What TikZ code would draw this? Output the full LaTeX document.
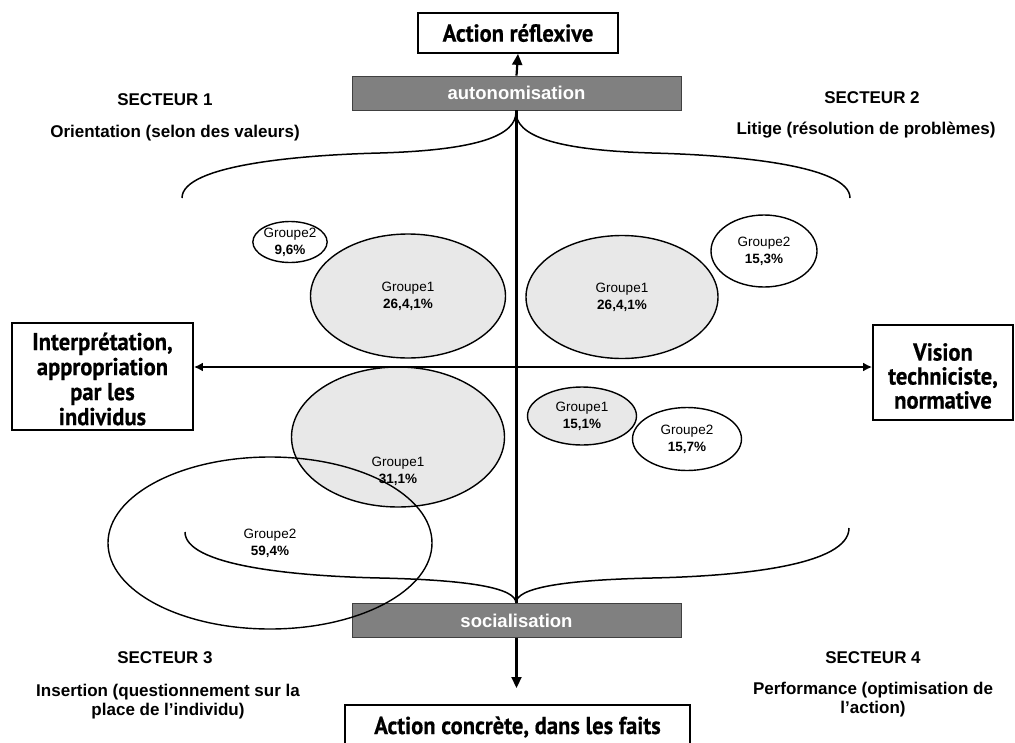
\documentclass[tikz,border=0pt]{standalone}
\usepackage{fontspec}
\setmainfont{Liberation Sans}
\newfontfamily\boxfont[FakeStretch=0.92,BoldFeatures={FakeBold=0.5}]{PT Sans}
\usetikzlibrary{arrows.meta,shapes.geometric}
\definecolor{barfill}{HTML}{808080}
\definecolor{ellfill}{HTML}{E8E8E8}
\begin{document}
\begin{tikzpicture}[x=1pt,y=-1pt,
  bigbox/.style={draw=black,line width=1.8pt,fill=white,inner sep=0pt,align=center},
  boxtext/.style={inner sep=0pt,align=center,font=\boxfont\bfseries\fontsize{24.5}{25}\selectfont},
  greybar/.style={draw=black!75,line width=0.8pt,fill=barfill,text=white,inner sep=0pt,
    minimum width=329pt,minimum height=34pt,font=\bfseries\fontsize{18.5}{20}\selectfont},
  sect/.style={font=\bfseries\fontsize{17}{19}\selectfont,align=center,inner sep=0pt},
  grp/.style={ellipse,draw=black,line width=1.4pt,inner sep=0pt,align=center,
    font=\fontsize{13.5}{17}\selectfont},
  grpg/.style={grp,fill=ellfill},
  arrowline/.style={line width=2.2pt,-{Triangle[length=11pt,width=10pt]}},
  brace/.style={line width=1.5pt},
  ]
\useasboundingbox (0,0) rectangle (1015,742);
\clip (0,0) rectangle (1015,742);

% boxes
\node[bigbox,boxtext,minimum width=200pt,minimum height=40pt] (ar) at (518,33) {Action réflexive};
\node[greybar] (auto) at (516.5,93) {autonomisation};
\node[greybar] (soc) at (516.5,620.5) {socialisation};
\node[bigbox,minimum width=345pt,minimum height=46pt] (acf) at (517.5,728) {};
\node[boxtext] (acft) at (517.5,727) {Action concrète, dans les faits};
\node[bigbox,minimum width=181pt,minimum height=107pt] (lbox) at (102.5,376.5) {};
\node[boxtext] (lboxt) at (102.5,379) {Interprétation,\\appropriation\\par les\\individus};
\node[bigbox,minimum width=140pt,minimum height=95pt] (rbox) at (943,372.5) {};
\node[boxtext,font=\boxfont\bfseries\fontsize{24.5}{24}\selectfont] (rboxt) at (943,376)
  {Vision\\techniciste,\\normative};

\coordinate (o) at (516,367);
\coordinate (btip) at (516,603);
\coordinate (ttip) at (516,112);
\coordinate (dtip) at (516.5,688);

% ellipses (filled ones first)
\node[grpg,minimum width=195pt,minimum height=124pt] (g1a) at (408,296) {Groupe1\\\textbf{26,4,1\%}};
\node[grpg,minimum width=192pt,minimum height=123pt] (g1b) at (622,297) {Groupe1\\\textbf{26,4,1\%}};
\node[grpg,minimum width=213pt,minimum height=140pt] (g1c) at (398,437) {};
\node[align=center,inner sep=0pt,font=\fontsize{13.5}{17}\selectfont] (g1ct) at (398,471) {Groupe1\\\textbf{31,1\%}};
\node[grpg,minimum width=109pt,minimum height=58pt] (g1d) at (582,416) {Groupe1\\\textbf{15,1\%}};
\node[grp,fill=white,minimum width=65pt,minimum height=41pt] (g2a) at (290,242) {Groupe2\\\textbf{9,6\%}};
\node[grp,fill=white,minimum width=106pt,minimum height=72pt] (g2b) at (764,251) {Groupe2\\\textbf{15,3\%}};
\node[grp,fill=white,minimum width=109pt,minimum height=63pt] (g2c) at (687,439) {Groupe2\\\textbf{15,7\%}};
\node[grp,minimum width=324pt,minimum height=172pt] (g2d) at (270,543) {Groupe2\\\textbf{59,4\%}};

% braces
\draw[brace] (182,198) .. controls (182,165) and (300,155) .. (380,153)
  .. controls (480,150) and (516,135) .. (ttip);
\draw[brace] (850,198) .. controls (850,165) and (732,155) .. (652,153)
  .. controls (552,150) and (516,135) .. (ttip);
\draw[brace] (185,532) .. controls (185,565) and (290,576) .. (380,578)
  .. controls (470,580) and (516,588) .. (btip);
\draw[brace] (849,528) .. controls (849,565) and (742,576) .. (652,578)
  .. controls (562,580) and (516,588) .. (btip);

% axes
\draw[line width=2.6pt] (auto.south) -- (soc.north);
\draw[line width=2.6pt,arrows={Latex[length=9pt,width=9pt]-Latex[length=9pt,width=9pt]}] (lbox.east |- o) -- (rbox.west |- o);
\draw[arrowline] (auto.north) -- (ar.south);
\draw[arrowline] (soc.south) -- (dtip);

% sector labels
\node[sect] (s1) at (165,100) {SECTEUR 1};
\node[sect] (s1t) at (175,133) {Orientation (selon des valeurs)};
\node[sect] (s2) at (872,98) {SECTEUR 2};
\node[sect] (s2t) at (866,130) {Litige (résolution de problèmes)};
\node[sect] (s3) at (165,658) {SECTEUR 3};
\node[sect] (s3t) at (168,702) {Insertion (questionnement sur la\\place de l’individu)};
\node[sect] (s4) at (873,658) {SECTEUR 4};
\node[sect] (s4t) at (873,700) {Performance (optimisation de\\l’action)};
\end{tikzpicture}
\end{document}
